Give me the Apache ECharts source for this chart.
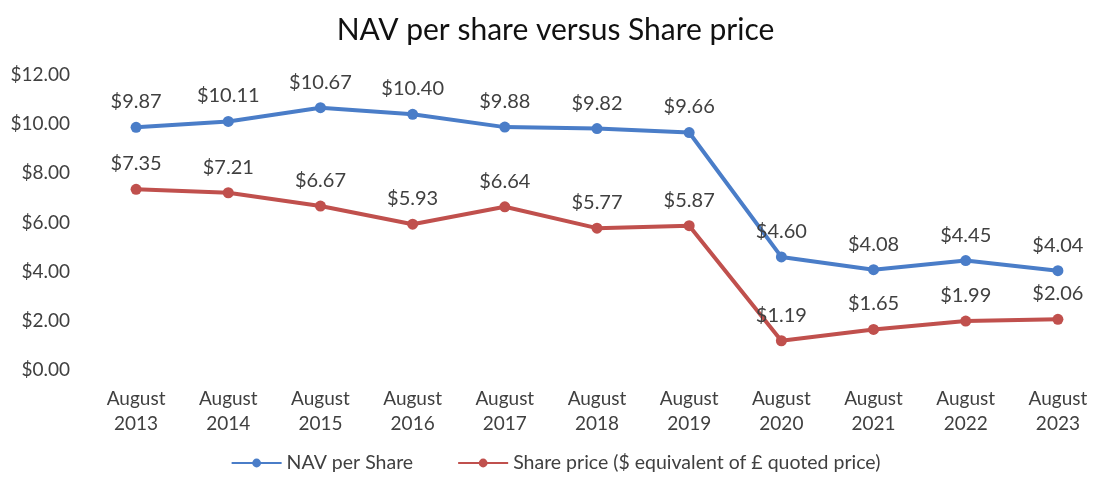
<!DOCTYPE html>
<html>
<head>
<meta charset="utf-8">
<script src="https://cdn.jsdelivr.net/npm/echarts@6/dist/echarts.min.js"></script>
<style>
  html, body { margin: 0; padding: 0; background: #fff; }
  #chart { width: 1111px; height: 481px; }
</style>
</head>
<body>
<div id="chart"></div>
<script>
var years = ['August\n2013', 'August\n2014', 'August\n2015', 'August\n2016', 'August\n2017', 'August\n2018',
  'August\n2019', 'August\n2020', 'August\n2021', 'August\n2022', 'August\n2023']
var navPerShare = [9.87, 10.11, 10.67, 10.40, 9.88, 9.82, 9.66, 4.60, 4.08, 4.45, 4.04]
var sharePrice = [7.35, 7.21, 6.67, 5.93, 6.64, 5.77, 5.87, 1.19, 1.65, 1.99, 2.06]

var font = 'Lato, "Noto Sans", sans-serif'
var textColor = '#404040'

function money(v) {
  return '$' + Number(v).toFixed(2)
}

var myChart = echarts.init(document.getElementById('chart'))
var option = {
  animation: false,
  textStyle: { fontFamily: font },
  title: {
    text: 'NAV per share versus Share price',
    left: 'center',
    top: 10,
    textStyle: { fontFamily: font, fontSize: 30, fontWeight: 'normal', color: '#111' }
  },
  legend: {
    bottom: 3,
    left: 'center',
    itemWidth: 50,
    itemHeight: 11,
    itemGap: 44,
    textStyle: { fontFamily: font, fontSize: 19.5, color: textColor },
    data: ['NAV per Share', 'Share price ($ equivalent of £ quoted price)']
  },
  grid: { left: 90, right: 7, top: 75, bottom: 111 },
  xAxis: {
    type: 'category',
    data: years,
    boundaryGap: true,
    axisLine: { show: false },
    axisTick: { show: false },
    axisLabel: { color: textColor, fontSize: 19, lineHeight: 25, margin: 16, fontFamily: font }
  },
  yAxis: {
    type: 'value',
    min: 0,
    max: 12,
    interval: 2,
    splitLine: { show: false },
    axisLine: { show: false },
    axisTick: { show: false },
    axisLabel: { color: textColor, fontSize: 19, margin: 20, fontFamily: font, formatter: money }
  },
  series: [
    {
      name: 'NAV per Share',
      type: 'line',
      data: navPerShare,
      symbol: 'circle',
      symbolSize: 11,
      color: '#4a7dc8',
      lineStyle: { width: 4 },
      label: {
        show: true, position: 'top', distance: 10,
        color: textColor, fontSize: 20, fontFamily: font, formatter: function (p) { return money(p.value) }
      }
    },
    {
      name: 'Share price ($ equivalent of £ quoted price)',
      type: 'line',
      data: sharePrice,
      symbol: 'circle',
      symbolSize: 11,
      color: '#c0504d',
      lineStyle: { width: 4 },
      label: {
        show: true, position: 'top', distance: 10,
        color: textColor, fontSize: 20, fontFamily: font, formatter: function (p) { return money(p.value) }
      }
    }
  ]
}
myChart.setOption(option)
</script>
</body>
</html>
